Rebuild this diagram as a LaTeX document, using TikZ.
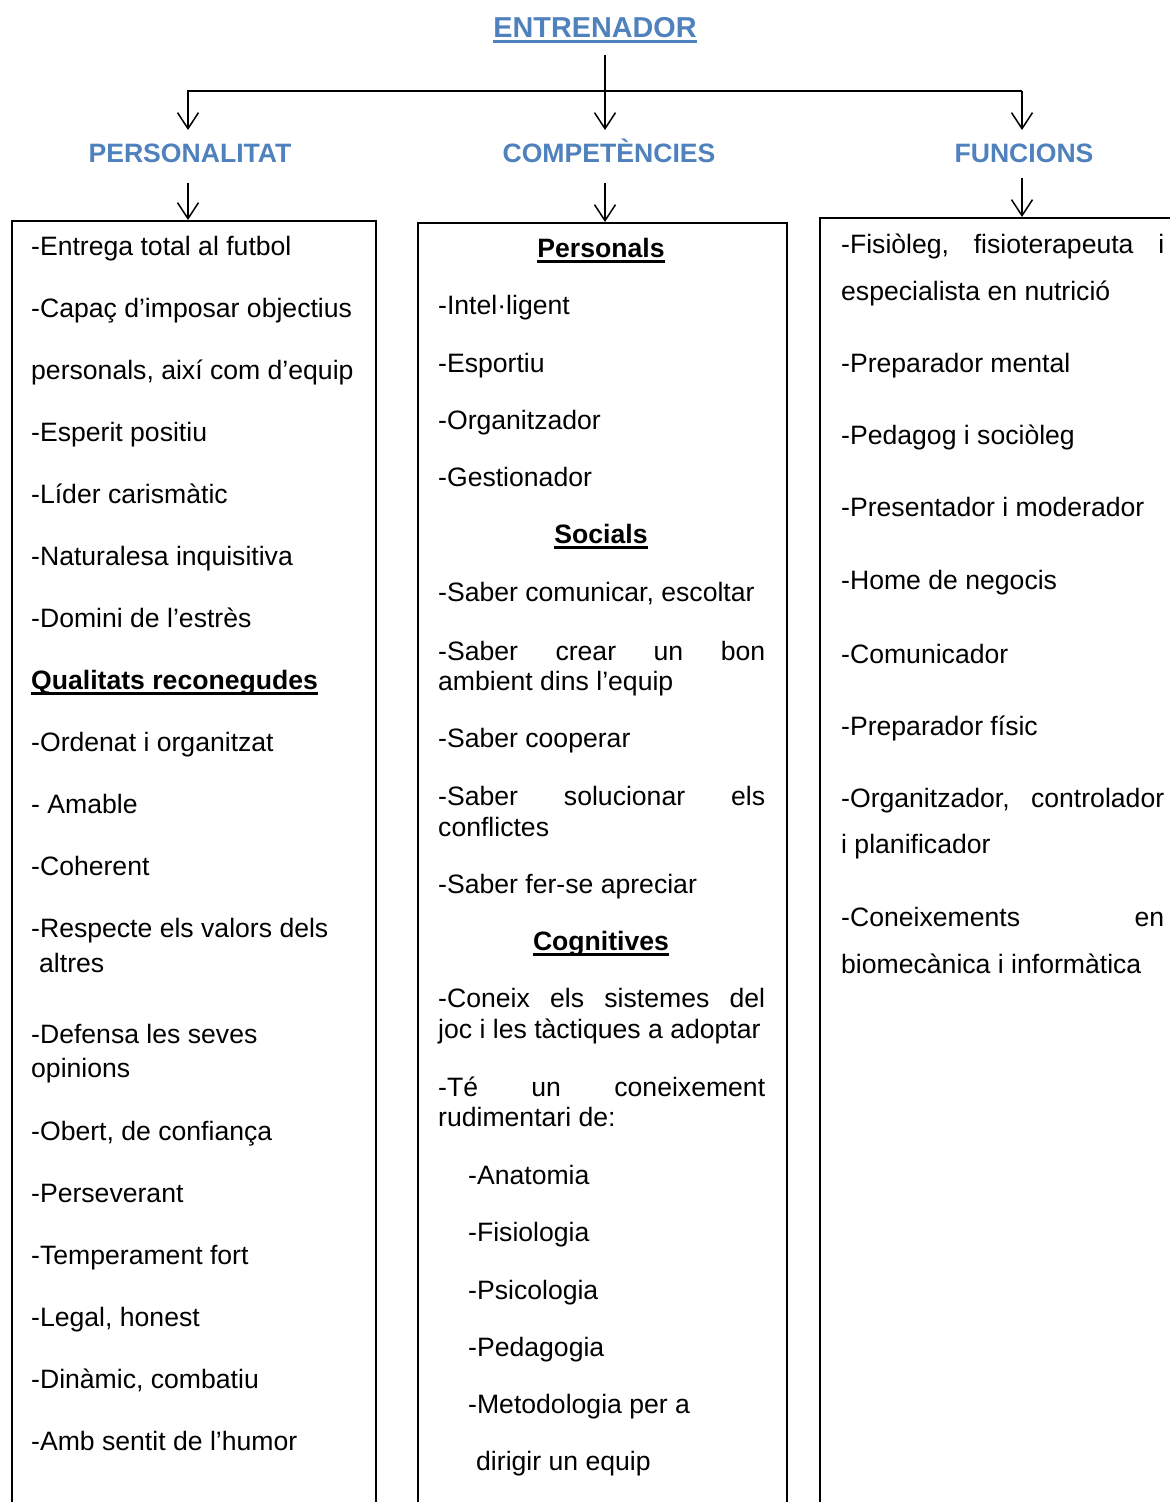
\documentclass[tikz,border=0pt]{standalone}
\usepackage{fontspec}
\setmainfont{Liberation Sans}
\usepackage{xcolor}
\usepackage{tikz}
\usetikzlibrary{arrows.meta}

\definecolor{headblue}{RGB}{79,129,189}
% bold text with a Word-like underline through the descenders
\newcommand{\ulbf}[1]{\setbox0\hbox{\bfseries #1}\rlap{\vrule height -3pt depth 5.5pt width \wd0}\box0}
% a justified line of fixed width
\newcommand{\jline}[2]{\hbox to #1{#2}}

\begin{document}
\begin{tikzpicture}[x=1pt, y=-1pt,
    item/.style={anchor=base west, inner sep=0pt, font=\fontsize{26.6}{30}\selectfont},
    subhead/.style={anchor=base, inner sep=0pt, font=\fontsize{26.6}{30}\selectfont\bfseries},
    head/.style={anchor=base, inner sep=0pt, text=headblue, font=\fontsize{26.6}{30}\selectfont\bfseries},
    colbox/.style={draw, line width=1.5pt, anchor=north west, inner sep=0pt, minimum height=1320pt},
    Arr/.style={-{Straight Barb[length=16pt, width=21pt]}, line width=1.5pt},
                        ]
    \useasboundingbox (0,0) rectangle (1170,1502);

    \node[head, font=\fontsize{28.8}{32}\selectfont\bfseries] (ent) at (595,37) {\ulbf{ENTRENADOR}};
    \node[head] (pers) at (190,162) {PERSONALITAT};
    \node[head] (comp) at (609,162) {COMPETÈNCIES};
    \node[head] (func) at (1024,162) {FUNCIONS};

    \node[colbox, minimum width=364pt] (pbox) at (11,220) {};
    \node[colbox, minimum width=369pt] (cbox) at (417,222) {};
    \node[colbox, minimum width=370pt] (fbox) at (819,217) {};

    \coordinate (stem) at (605,55);
    \coordinate (barL) at (188,91);
    \coordinate (barR) at (1022,91);
    \draw[Arr] (stem) -- ([yshift=32pt]comp.base -| stem);
    \draw[Arr] (barR) -- (barL) -- ([yshift=32pt]pers.base -| barL);
    \draw[Arr] (barR) -- ([yshift=32pt]func.base -| barR);

    \draw[Arr] ([yshift=-21pt]pers.base -| barL) -- (pbox.north -| barL);
    \draw[Arr] ([yshift=-21pt]comp.base -| stem) -- (cbox.north -| stem);
    \draw[Arr] ([yshift=-16pt]func.base -| barR) -- (fbox.north -| barR);

    % PERSONALITAT
    \foreach \x/\y/\txt [count=\i] in {
        31/255/{-Entrega total al futbol},
        31/317/{-Capaç d’imposar objectius},
        31/379/{personals, així com d’equip},
        31/441/{-Esperit positiu},
        31/503/{-Líder carismàtic},
        31/565/{-Naturalesa inquisitiva},
        31/627/{-Domini de l’estrès},
        31/689/{\ulbf{Qualitats reconegudes}},
        31/751/{-Ordenat i organitzat},
        31/813/{- Amable},
        31/875/{-Coherent},
        31/937/{-Respecte els valors dels},
        39/972/{altres},
        31/1043/{-Defensa les seves},
        31/1077/{opinions},
        31/1140/{-Obert, de confiança},
        31/1202/{-Perseverant},
        31/1264/{-Temperament fort},
        31/1326/{-Legal, honest},
        31/1388/{-Dinàmic, combatiu},
        31/1450/{-Amb sentit de l’humor}}
        \node[item] (pl\i) at (\x,\y) {\txt};

    % COMPETENCIES
    \node[subhead] (personals) at (601,257) {\ulbf{Personals}};
    \node[subhead] (socials) at (601,543) {\ulbf{Socials}};
    \node[subhead] (cognitives) at (601,950) {\ulbf{Cognitives}};
    \foreach \x/\y/\txt [count=\i] in {
        438/314/{-Intel·ligent},
        438/372/{-Esportiu},
        438/429/{-Organitzador},
        438/486/{-Gestionador},
        438/601/{-Saber comunicar, escoltar},
        438/660/{\jline{327pt}{-Saber\hfill crear\hfill un\hfill bon}},
        438/690/{ambient dins l’equip},
        438/747/{-Saber cooperar},
        438/805/{\jline{327pt}{-Saber\hfill solucionar\hfill els}},
        438/836/{conflictes},
        438/893/{-Saber fer-se apreciar},
        438/1007/{\jline{327pt}{-Coneix\hfill els\hfill sistemes\hfill del}},
        438/1038/{joc i les tàctiques a adoptar},
        438/1096/{\jline{327pt}{-Té\hfill un\hfill coneixement}},
        438/1126/{rudimentari de:},
        468/1184/{-Anatomia},
        468/1241/{-Fisiologia},
        468/1299/{-Psicologia},
        468/1356/{-Pedagogia},
        468/1413/{-Metodologia per a},
        476/1470/{dirigir un equip}}
        \node[item] (cl\i) at (\x,\y) {\txt};

    % FUNCIONS
    \foreach \y/\txt [count=\i] in {
        253/{\jline{323pt}{-Fisiòleg,\hfill fisioterapeuta\hfill i}},
        300/{especialista en nutrició},
        372/{-Preparador mental},
        444/{-Pedagog i sociòleg},
        516/{-Presentador i moderador},
        589/{-Home de negocis},
        663/{-Comunicador},
        735/{-Preparador físic},
        807/{\jline{323pt}{-Organitzador,\hfill controlador}},
        853/{i planificador},
        926/{\jline{323pt}{-Coneixements\hfill en}},
        973/{biomecànica i informàtica}}
        \node[item] (fl\i) at (841,\y) {\txt};

\end{tikzpicture}
\end{document}
